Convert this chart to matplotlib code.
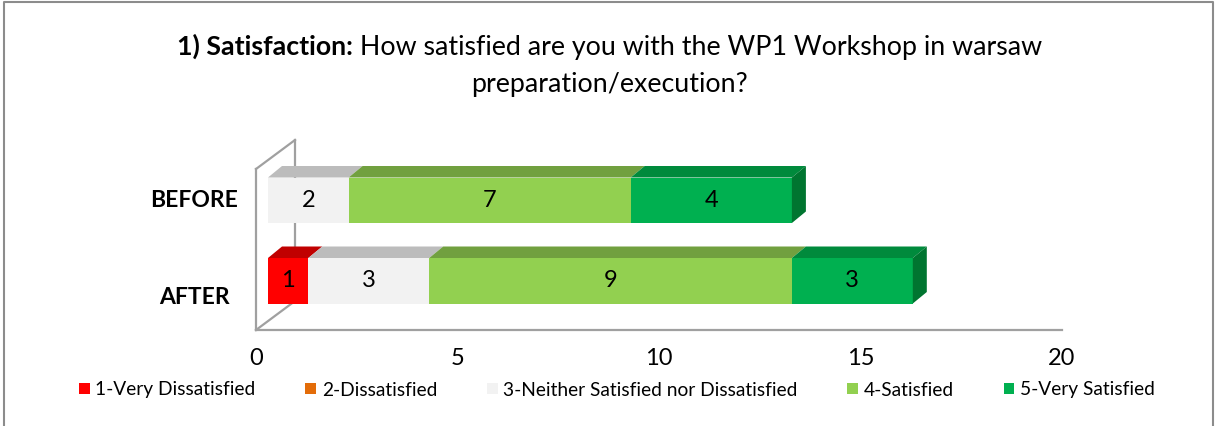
import matplotlib
matplotlib.use('Agg')
import matplotlib.pyplot as plt
from matplotlib.patches import Polygon, Patch
from matplotlib.lines import Line2D
from matplotlib.transforms import offset_copy

# ---------------- data ----------------
categories = ['AFTER', 'BEFORE']
series_names = ['1-Very Dissatisfied', '2-Dissatisfied',
                '3-Neither Satisfied nor Dissatisfied', '4-Satisfied',
                '5-Very Satisfied']
very_dissatisfied = [1, 0]
dissatisfied = [0, 0]
neutral = [3, 2]
satisfied = [9, 7]
very_satisfied = [3, 4]
x_ticks = [0, 5, 10, 15, 20]
title_bold = '1) Satisfaction:'
title_rest = ' How satisfied are you with the WP1 Workshop in warsaw'
title_line2 = 'preparation/execution?'

series_values = [very_dissatisfied, dissatisfied, neutral, satisfied, very_satisfied]
front_colors = ['#FF0000', '#E36C09', '#F2F2F2', '#92D050', '#00B050']
top_colors = ['#C00000', '#B35408', '#BCBCBC', '#71A03F', '#008A3C']
side_colors = ['#A00000', '#944507', '#A6A6A6', '#5E8A33', '#007530']

FONT = ['Lato', 'DejaVu Sans']
plt.rcParams['font.family'] = FONT

W, H = 1219, 426
fig = plt.figure(figsize=(W / 100, H / 100), dpi=100)
fig.patch.set_facecolor('white')

# axes = front plane of the floor
ax_left, ax_right, ax_top, ax_bottom = 256, 1062, 169, 330
ax = fig.add_axes([ax_left / W, (H - ax_bottom) / H,
                   (ax_right - ax_left) / W, (ax_bottom - ax_top) / H])
ax.set_xlim(0, 20)
ax.set_ylim(-0.5, 1.5)
ax.patch.set_alpha(0)

PX = (ax_right - ax_left) / 20.0   # pixels per x unit
PY = (ax_bottom - ax_top) / 2.0    # pixels per y unit

axis_color = '#A0A0A0'
for s in ['top', 'right']:
    ax.spines[s].set_visible(False)
for s in ['left', 'bottom']:
    ax.spines[s].set_color(axis_color)
    ax.spines[s].set_linewidth(1.6)

# walls (depth of the floor in pixels)
fdx, fdy = 39 / PX, 29 / PY
ax.plot([fdx, fdx], [-0.5 + fdy, 1.5 + fdy], color=axis_color, lw=1.6,
        clip_on=False, zorder=1)
ax.plot([0, fdx], [1.5, 1.5 + fdy], color=axis_color, lw=1.6, clip_on=False, zorder=1)
ax.plot([0, fdx], [-0.5, -0.5 + fdy], color=axis_color, lw=1.6, clip_on=False, zorder=1)

# bars: front plane shifted back into the depth
off_front = offset_copy(ax.transData, fig=fig, x=12, y=9, units='dots')
bdx, bdy = 14 / PX, 11.5 / PY
BH = 45.5 / PY

for i, cat in enumerate(categories):
    cum = 0
    segs = [(k, series_values[k][i]) for k in range(len(series_values))
            if series_values[k][i] > 0]
    for j, (k, v) in enumerate(segs):
        ax.barh(i, v, left=cum, height=BH, color=front_colors[k],
                edgecolor='none', transform=off_front, zorder=3, clip_on=False)
        top = i + BH / 2
        ax.add_patch(Polygon([(cum, top), (cum + v, top), (cum + v + bdx, top + bdy),
                              (cum + bdx, top + bdy)], closed=True,
                             facecolor=top_colors[k], edgecolor='none',
                             transform=off_front, zorder=3, clip_on=False))
        if j == len(segs) - 1:
            bot = i - BH / 2
            ax.add_patch(Polygon([(cum + v, bot), (cum + v, top),
                                  (cum + v + bdx, top + bdy), (cum + v + bdx, bot + bdy)],
                                 closed=True, facecolor=side_colors[k],
                                 edgecolor='none', transform=off_front, zorder=3,
                                 clip_on=False))
        ax.text(cum + v / 2, i, str(v), transform=off_front, ha='center',
                va='center', fontsize=17, color='black', zorder=4)
        cum += v

# tick labels
ax.set_xticks(x_ticks)
ax.set_xticklabels([str(t) for t in x_ticks])
ax.tick_params(axis='x', length=0, pad=13, labelsize=17, labelcolor='black')
ax.set_yticks([])

# category labels
ytr = ax.get_yaxis_transform()
ax.text(-0.022, 1.105, categories[1], transform=ytr, ha='right', va='center',
        fontsize=16.5, fontweight='bold')
ax.text(-0.032, -0.10, categories[0], transform=ytr, ha='right', va='center',
        fontsize=16.5, fontweight='bold')

# title (bold prefix + regular text)
r = fig.canvas.get_renderer()
TS = 19.3
y1 = 1 - 55 / H
t1 = fig.text(0, y1, title_bold, fontsize=TS, fontweight='bold', va='baseline')
t2 = fig.text(0, y1, title_rest, fontsize=TS, va='baseline')
w1 = t1.get_window_extent(r).width
w2 = t2.get_window_extent(r).width
x0 = (W / 2 - (w1 + w2) / 2) / W
t1.set_x(x0)
t2.set_x(x0 + w1 / W)
fig.text(0.5, 1 - 92 / H, title_line2, fontsize=TS, ha='center', va='baseline')

# legend
handles = [Patch(facecolor=c, edgecolor='none') for c in front_colors]
fig.legend(handles, series_names, loc='center', bbox_to_anchor=(617 / W, 1 - 390 / H),
           ncol=5, frameon=False, fontsize=13.8, handlelength=0.55,
           handleheight=0.55, handletextpad=0.3, columnspacing=2.6)

# chart border
bc = '#8C8C8C'
fig.add_artist(Line2D([4 / W, 4 / W, 1213 / W, 1213 / W], [0, 1 - 2 / H, 1 - 2 / H, 0],
                      transform=fig.transFigure, color=bc, lw=1.5))

fig.savefig('out.png', dpi=100, facecolor='white')
